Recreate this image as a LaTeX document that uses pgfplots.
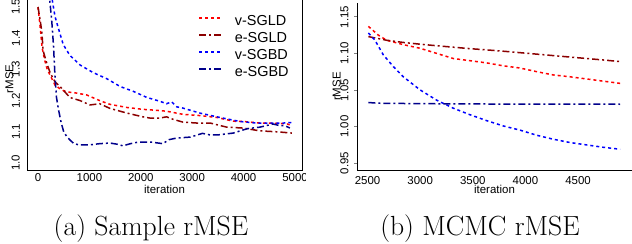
\documentclass[border=0pt]{standalone}
\usepackage{pgfplots}
\pgfplotsset{compat=1.18}
\usepackage{fontspec}
\newfontfamily\arial{Liberation Sans}
\definecolor{vred}{RGB}{255,0,0}
\definecolor{ered}{RGB}{139,0,0}
\definecolor{vblue}{RGB}{0,0,255}
\definecolor{eblue}{RGB}{0,0,139}
\tikzset{
 vsty/.style={line width=1.5bp, dash pattern=on 3bp off 3bp},
 esty/.style={line width=1.5bp, dash pattern=on 7bp off 3bp on 2bp off 3bp},
}
\newcommand{\labfont}{\arial\fontsize{11.5}{13}\selectfont}
\pgfplotsset{
 common/.style={scale only axis, anchor=south west, width=275bp,
   /pgf/number format/assume math mode=true,
   /pgf/number format/1000 sep={},
   tick label style={font=\arial\fontsize{11.5}{13}\selectfont},
   xticklabel style={anchor=north, inner sep=0pt},
   xticklabel shift=3.5bp,
   yticklabel style={rotate=90, anchor=south, inner sep=0pt},
   every axis x label/.style={at={(rel axis cs:0.5,0)}, anchor=base, yshift=-23.5bp, font=\labfont},
   axis line style={line width=0.8bp},
 }
}
\begin{document}
\begin{tikzpicture}
\useasboundingbox (0bp,0bp) rectangle (632bp,244bp);
\begin{scope}
\clip (0bp,0bp) rectangle (305bp,244bp);
\begin{axis}[common, at={(27bp,74bp)}, height=182bp,
  xmin=-214, xmax=5136, ymin=0.9776, ymax=1.5609,
  xtick={0,1000,2000,3000,4000,5000},
  ytick={1.0,1.1,1.2,1.3,1.4,1.5},
  yticklabel style={/pgf/number format/.cd, fixed, fixed zerofill, precision=1},
  yticklabel shift=7bp,
  major tick length=0pt,
  xlabel={iteration}, ylabel={rMSE},
  every axis y label/.style={at={(rel axis cs:0,0.5)}, xshift=-13.7bp, rotate=90, anchor=base, font=\labfont},
  legend style={at={(rel axis cs:0.622,0.857)}, anchor=north west, draw=none, fill=none,
    inner sep=0pt, row sep=0pt, font=\arial\fontsize{14.5}{17}\selectfont,
    nodes={inner sep=0pt, text height=11bp, text depth=6bp},
    /tikz/every odd column/.append style={column sep=13bp}},
  legend cell align=left,
]
\addplot[vsty, color=vred, legend image code/.code={\color{vred}\draw[vsty, line width=1.6bp, draw=vred] (0bp,5bp) -- (22bp,5bp);}] coordinates {
(0,1.50)(40,1.44)(80,1.37)(130,1.33)(180,1.30)(240,1.28)(330,1.25)(450,1.235)(560,1.228)(720,1.225)(950,1.218)(1200,1.200)(1400,1.188)(1730,1.178)(2040,1.172)(2300,1.169)(2500,1.166)(2820,1.156)(3150,1.152)(3480,1.146)(3800,1.134)(4000,1.133)(4320,1.128)(4710,1.127)(4850,1.125)(4940,1.120)};
\addlegendentry{v-SGLD}
\addplot[esty, color=ered, legend image code/.code={\color{ered}\draw[esty, line width=1.6bp, draw=ered] (0bp,5bp) -- (22bp,5bp);}] coordinates {
(0,1.50)(40,1.46)(75,1.42)(100,1.36)(170,1.32)(235,1.29)(330,1.26)(430,1.245)(620,1.21)(820,1.20)(1010,1.186)(1200,1.19)(1400,1.175)(1730,1.16)(2040,1.148)(2180,1.144)(2370,1.144)(2500,1.148)(2630,1.14)(2820,1.131)(3100,1.128)(3350,1.128)(3670,1.115)(3990,1.112)(4320,1.103)(4650,1.10)(4940,1.096)};
\addlegendentry{e-SGLD}
\addplot[vsty, color=vblue, legend image code/.code={\color{vblue}\draw[vsty, line width=1.6bp, draw=vblue] (0bp,5bp) -- (22bp,5bp);}] coordinates {
(230,1.60)(280,1.52)(330,1.47)(400,1.43)(490,1.38)(620,1.345)(820,1.314)(1070,1.29)(1340,1.27)(1600,1.245)(1850,1.23)(2120,1.21)(2370,1.198)(2500,1.19)(2600,1.196)(2700,1.18)(2820,1.176)(3150,1.16)(3540,1.146)(3930,1.133)(4260,1.128)(4570,1.128)(4770,1.128)(4940,1.13)};
\addlegendentry{v-SGBD}
\addplot[esty, color=eblue, legend image code/.code={\color{eblue}\draw[esty, line width=1.6bp, draw=eblue] (0bp,5bp) -- (22bp,5bp);}] coordinates {
(200,1.60)(230,1.52)(270,1.45)(300,1.38)(330,1.28)(360,1.21)(400,1.17)(450,1.13)(500,1.10)(560,1.085)(620,1.074)(700,1.062)(800,1.058)(1000,1.058)(1200,1.062)(1400,1.064)(1550,1.06)(1650,1.055)(1800,1.062)(1950,1.067)(2200,1.067)(2430,1.062)(2550,1.075)(2700,1.08)(2960,1.083)(3200,1.095)(3350,1.09)(3500,1.09)(3800,1.096)(4070,1.11)(4320,1.115)(4570,1.125)(4700,1.12)(4800,1.12)(4900,1.112)};
\addlegendentry{e-SGBD}
\end{axis}
\end{scope}
\begin{scope}
\clip (305bp,0bp) rectangle (632bp,244bp);
\begin{axis}[common, at={(357bp,74bp)}, height=167bp,
  xmin=2400, xmax=5013, ymin=0.9404, ymax=1.169,
  axis x line*=bottom, axis y line*=left,
  xtick={2500,3000,3500,4000,4500},
  ytick={0.95,1.00,1.05,1.10,1.15},
  yticklabel style={/pgf/number format/.cd, fixed, fixed zerofill, precision=2},
  yticklabel shift=5.3bp,
  tick align=outside, major tick length=3bp, ytick pos=left, xtick style={draw=none},
  ytick style={line width=0.8bp},
  xlabel={iteration}, ylabel={rMSE},
  every axis y label/.style={at={(rel axis cs:0,0.5)}, xshift=-16.5bp, rotate=90, anchor=base, font=\labfont},
]
\addplot[vsty, color=vred] coordinates {
(2508,1.137)(2603,1.125)(2682,1.118)(2840,1.112)(3000,1.107)(3157,1.100)(3315,1.093)(3474,1.090)(3632,1.087)(3790,1.083)(3949,1.080)(4107,1.075)(4265,1.0705)(4424,1.068)(4583,1.065)(4740,1.062)(4900,1.059)};
\addplot[esty, color=ered] coordinates {
(2508,1.123)(2682,1.118)(2840,1.115)(3000,1.1126)(3157,1.1105)(3315,1.1085)(3474,1.1065)(3632,1.1048)(3790,1.103)(3949,1.101)(4107,1.099)(4265,1.097)(4424,1.095)(4583,1.093)(4740,1.091)(4900,1.0888)};
\addplot[vsty, color=vblue] coordinates {
(2508,1.128)(2571,1.118)(2650,1.098)(2745,1.082)(2840,1.068)(3000,1.05)(3157,1.036)(3315,1.025)(3474,1.016)(3632,1.008)(3790,1.0007)(3949,0.995)(4107,0.988)(4265,0.9825)(4424,0.978)(4583,0.9747)(4740,0.9715)(4900,0.9688)};
\addplot[esty, color=eblue] coordinates {
(2508,1.0328)(2600,1.0318)(3000,1.0312)(3500,1.0308)(4000,1.0306)(4500,1.0305)(4900,1.0304)};
\end{axis}
\end{scope}
\node[font=\fontsize{27.8}{32}\selectfont, anchor=base, inner sep=0pt] at (151bp,9bp) {(a) Sample rMSE};
\node[font=\fontsize{27.8}{32}\selectfont, anchor=base, inner sep=0pt] at (480bp,9bp) {(b) MCMC rMSE};
\end{tikzpicture}
\end{document}
